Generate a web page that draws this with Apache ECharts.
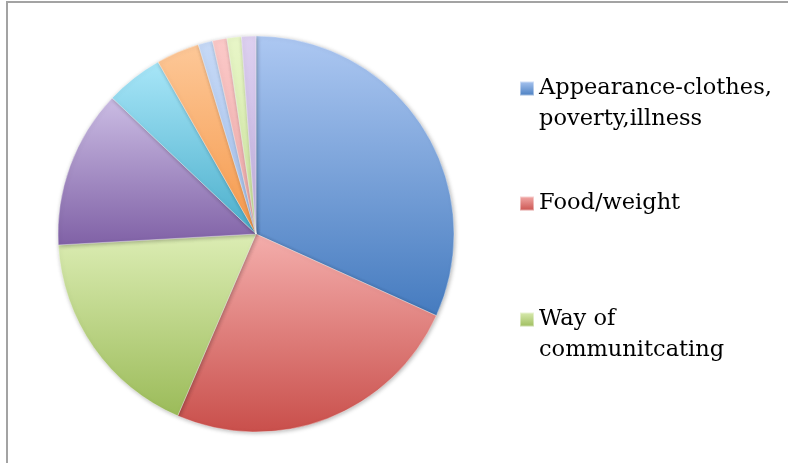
<!DOCTYPE html>
<html>
<head>
<meta charset="utf-8">
<script src="https://cdn.jsdelivr.net/npm/echarts@6/dist/echarts.min.js"></script>
<style>
  html, body { margin: 0; padding: 0; background: #ffffff; }
  #chart { width: 788px; height: 463px; }
</style>
</head>
<body>
<div id="chart"></div>
<script>
// Reasons given, in clockwise order from 12 o'clock
const categories = [
  'Appearance-clothes,\npoverty,illness',
  'Food/weight',
  'Way of\ncommunitcating',
  'Category 4',
  'Category 5',
  'Category 6',
  'Category 7',
  'Category 8',
  'Category 9',
  'Category 10'
];
const counts = [27, 21, 15, 11, 4, 3, 1, 1, 1, 1];

// Light (top) and dark (bottom) stops of each slice's vertical gradient
const lightStops = ['#adc8f2', '#f4aeac', '#dcedb4', '#cbbde4', '#a8e6f8', '#fdc898', '#c6d9f6', '#fbc9c8', '#e8f6c8', '#ddd0f0'];
const darkStops  = ['#457bbf', '#c94f4b', '#9bbb59', '#8061a6', '#4aaecb', '#f5984a', '#a3bfeb', '#eda7a6', '#cbe39b', '#c0aedc'];

function gradient(i) {
  return new echarts.graphic.LinearGradient(0, 0, 0, 1, [
    { offset: 0, color: lightStops[i] },
    { offset: 1, color: darkStops[i] }
  ]);
}

const pieData = categories.map((name, i) => ({
  name: name,
  value: counts[i],
  itemStyle: { color: gradient(i) }
}));

const legendFont = {
  fontFamily: 'DejaVu Serif',
  fontSize: 22.5,
  lineHeight: 31,
  color: '#000000'
};

// Two-line entries get a blank leading line so the swatch sits beside the first line
function legendFor(name, top, twoLines) {
  return {
    data: [name],
    orient: 'vertical',
    left: 519,
    top: top,
    padding: 0,
    icon: 'rect',
    itemWidth: 14,
    itemHeight: 14,
    selectedMode: false,
    formatter: twoLines ? (n) => '\n' + n : (n) => n,
    textStyle: legendFont
  };
}

const chart = echarts.init(document.getElementById('chart'), null, { renderer: 'canvas' });
chart.setOption({
  backgroundColor: '#ffffff',
  animation: false,
  legend: [
    legendFor(categories[0], 42, true),
    legendFor(categories[1], 188, false),
    legendFor(categories[2], 273, true)
  ],
  graphic: [{
    type: 'rect',
    shape: { x: 7, y: 2, width: 900, height: 600 },
    style: { fill: 'none', stroke: '#a3a3a3', lineWidth: 2 },
    silent: true
  }],
  series: [{
    type: 'pie',
    center: [256, 234],
    radius: [0, 198],
    startAngle: 90,
    clockwise: true,
    label: { show: false },
    labelLine: { show: false },
    emphasis: { disabled: true },
    itemStyle: {
      borderColor: 'rgba(255,255,255,0.45)',
      borderWidth: 0.8,
      shadowBlur: 4,
      shadowColor: 'rgba(0,0,0,0.28)',
      shadowOffsetX: 1,
      shadowOffsetY: 1
    },
    data: pieData
  }]
});
</script>
</body>
</html>
